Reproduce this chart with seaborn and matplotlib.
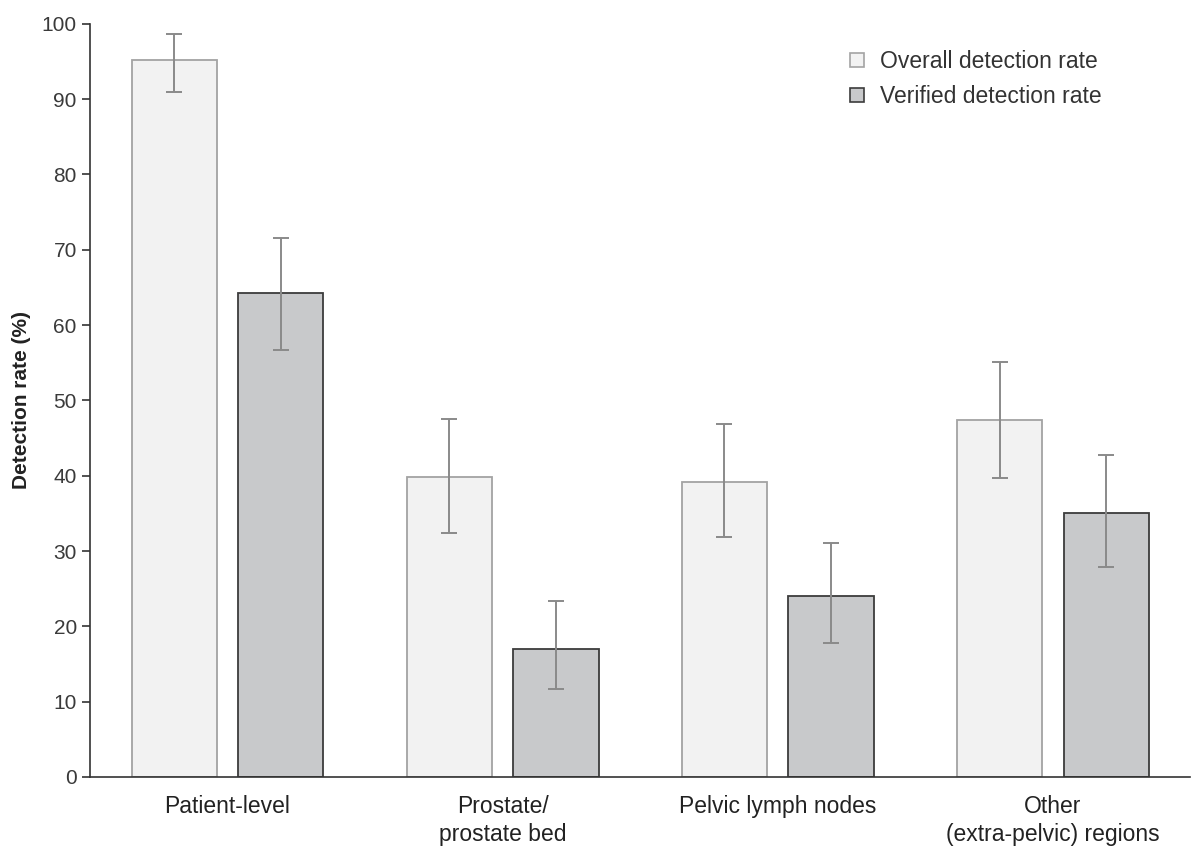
import pandas as pd
import numpy as np
import matplotlib.pyplot as plt
import seaborn as sns

# Values (detection rate, %)
categories = ['Patient-level', 'Prostate/\nprostate bed', 'Pelvic lymph nodes',
              'Other\n(extra-pelvic) regions']
series = ['Overall detection rate', 'Verified detection rate']
overall = [95.2, 39.8, 39.2, 47.4]
overall_lo = [91.0, 32.4, 31.8, 39.7]
overall_hi = [98.6, 47.5, 46.9, 55.1]
verified = [64.3, 17.0, 24.0, 35.0]
verified_lo = [56.7, 11.7, 17.8, 27.9]
verified_hi = [71.5, 23.4, 31.1, 42.7]

df = pd.DataFrame({
    'category': categories * 2,
    'series': [series[0]] * 4 + [series[1]] * 4,
    'rate': overall + verified,
    'lo': overall_lo + verified_lo,
    'hi': overall_hi + verified_hi,
})

sns.set_style('ticks')
plt.rcParams['font.family'] = ['Liberation Sans', 'DejaVu Sans']

fig = plt.figure(figsize=(12, 8.51), dpi=100)
ax = fig.add_axes([0.075, 0.087, 0.917, 0.885])

fills = {series[0]: '#f2f2f2', series[1]: '#c8c9cb'}
edges = {series[0]: '#a3a3a3', series[1]: '#3c3c3c'}

sns.barplot(data=df, x='category', y='rate', hue='series', palette=fills,
            width=0.775, gap=0.2, errorbar=None, ax=ax, linewidth=1.3,
            edgecolor='#a3a3a3')

# restyle edges per series and add error bars
for cont, s in zip(ax.containers, series):
    sub = df[df['series'] == s]
    xs = []
    for p in cont.patches:
        p.set_edgecolor(edges[s])
        xs.append(p.get_x() + p.get_width() / 2)
    ax.errorbar(xs, sub['rate'], yerr=[sub['rate'] - sub['lo'], sub['hi'] - sub['rate']],
                fmt='none', ecolor='#8a8a8a', elinewidth=1.4, capsize=6, capthick=1.4,
                zorder=5)

ax.set_xlim(-0.5, 3.5)
ax.set_ylim(0, 100)
ax.set_yticks(range(0, 101, 10))
ax.tick_params(axis='y', labelsize=15, length=6, width=1.2, color='#333333',
               labelcolor='#3a3a3a')
ax.tick_params(axis='x', labelsize=16.5, length=0, pad=13, labelcolor='#222222')
for t in ax.get_xticklabels():
    t.set_linespacing(1.25)
ax.set_xlabel('')
ax.set_ylabel('Detection rate (%)', fontsize=15, fontweight='bold',
              color='#222222', labelpad=8)
sns.despine(ax=ax)
for sp in ['left', 'bottom']:
    ax.spines[sp].set_linewidth(1.2)
    ax.spines[sp].set_color('#333333')

handles = [plt.Line2D([], [], marker='s', linestyle='none', markersize=10,
                      markerfacecolor=fills[s], markeredgecolor=edges[s],
                      markeredgewidth=1.2) for s in series]
ax.legend(handles, series, loc='upper left', bbox_to_anchor=(0.668, 0.993),
          frameon=False, fontsize=16.5, handlelength=1.0, handletextpad=0.5,
          labelspacing=0.55, labelcolor='#333333')

fig.savefig('out.png', dpi=100)
